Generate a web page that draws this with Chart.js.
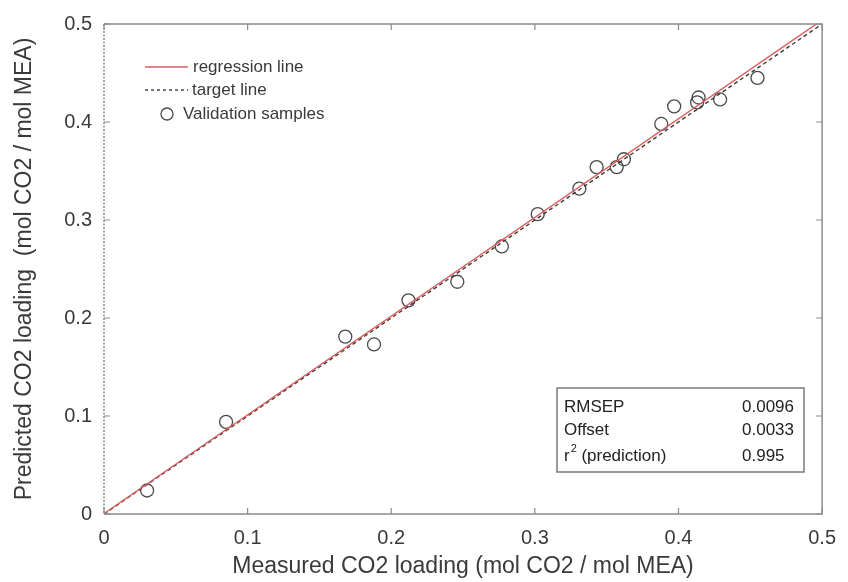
<!DOCTYPE html>
<html>
<head>
<meta charset="utf-8">
<script src="https://cdn.jsdelivr.net/npm/chart.js@4.4.1/dist/chart.umd.min.js"></script>
<style>
  html, body { margin: 0; padding: 0; background: #fff; }
  canvas { display: block; }
</style>
</head>
<body>
<canvas id="co2_chart" width="848" height="582"></canvas>
<script>
/* data */
var measured  = [0.030, 0.085, 0.168, 0.188, 0.212, 0.246, 0.277, 0.302, 0.331, 0.343, 0.357, 0.362, 0.388, 0.397, 0.413, 0.414, 0.429, 0.455];
var predicted = [0.024, 0.094, 0.181, 0.173, 0.218, 0.237, 0.273, 0.306, 0.332, 0.354, 0.354, 0.362, 0.398, 0.416, 0.420, 0.425, 0.423, 0.445];
/* regression line ends and target (y = x) line ends */
var reg_x = [0, 0.5];
var reg_y = [0.0005, 0.504];
var target_x = [0, 0.5];
var target_y = [0, 0.5];
/* axis ticks */
var x_ticks = [0, 0.1, 0.2, 0.3, 0.4, 0.5];
var y_ticks = [0, 0.1, 0.2, 0.3, 0.4, 0.5];
/* statistics box */
var stat_names  = ['RMSEP', 'Offset', 'r2 (prediction)'];
var stat_values = ['0.0096', '0.0033', '0.995'];

var font_name = '"Liberation Sans", Arial, Helvetica, sans-serif';
var text_col = '#3a3a3a';
var axis_col = '#8c8c8c';

function pairs(xs, ys) {
    var out = [];
    for (var i = 0; i < xs.length; i++) out.push({x: xs[i], y: ys[i]});
    return out;
}
function tick_label(v) {
    return (Math.round(v * 10) / 10).toString();
}

/*边框、向内刻度*/
var box_plugin = {
    id: 'box_plugin',
    afterDraw: function(chart) {
        var ctx = chart.ctx;
        var a = chart.chartArea;
        var sx = chart.scales.x, sy = chart.scales.y;
        ctx.save();
        ctx.strokeStyle = axis_col;
        ctx.lineWidth = 1.5;
        ctx.beginPath();
        ctx.moveTo(a.left, a.bottom);
        ctx.lineTo(a.right, a.bottom);
        ctx.lineTo(a.right, a.top);
        ctx.lineTo(a.left, a.top);
        ctx.stroke();
        /* left edge looks dotted in the original */
        ctx.setLineDash([2, 1.5]);
        ctx.beginPath();
        ctx.moveTo(a.left, a.top);
        ctx.lineTo(a.left, a.bottom);
        ctx.stroke();
        ctx.setLineDash([]);
        var tl = 6;
        ctx.lineWidth = 1.2;
        ctx.beginPath();
        for (var i = 0; i < x_ticks.length; i++) {
            var px = sx.getPixelForValue(x_ticks[i]);
            ctx.moveTo(px, a.bottom); ctx.lineTo(px, a.bottom - tl);
            ctx.moveTo(px, a.top); ctx.lineTo(px, a.top + tl);
        }
        for (var j = 0; j < y_ticks.length; j++) {
            var py = sy.getPixelForValue(y_ticks[j]);
            ctx.moveTo(a.left, py); ctx.lineTo(a.left + tl, py);
            ctx.moveTo(a.right, py); ctx.lineTo(a.right - tl, py);
        }
        ctx.stroke();
        ctx.restore();
    }
};

/*图例*/
var legend_plugin = {
    id: 'legend_plugin',
    afterDraw: function(chart) {
        var ctx = chart.ctx;
        var ds = chart.data.datasets;
        var rows = [67, 90, 114];
        var text_x = [193, 192, 183];
        ctx.save();
        ctx.font = '17px ' + font_name;
        ctx.textBaseline = 'middle';
        ctx.textAlign = 'left';
        for (var i = 0; i < ds.length; i++) {
            var y = rows[i];
            ctx.strokeStyle = ds[i].borderColor;
            ctx.lineWidth = ds[i].borderWidth;
            if (ds[i].showLine) {
                ctx.setLineDash(ds[i].borderDash ? [3, 3] : []);
                ctx.beginPath();
                ctx.moveTo(145, y);
                ctx.lineTo(188, y);
                ctx.stroke();
                ctx.setLineDash([]);
            } else {
                ctx.lineWidth = ds[i].pointBorderWidth;
                ctx.strokeStyle = ds[i].pointBorderColor;
                ctx.beginPath();
                ctx.arc(167, y, 6, 0, Math.PI * 2);
                ctx.stroke();
            }
            ctx.fillStyle = text_col;
            ctx.fillText(ds[i].label, text_x[i], y);
        }
        ctx.restore();
    }
};

/*统计框*/
var stats_plugin = {
    id: 'stats_plugin',
    afterDraw: function(chart) {
        var ctx = chart.ctx;
        ctx.save();
        ctx.strokeStyle = '#7a7a7a';
        ctx.lineWidth = 1.5;
        ctx.strokeRect(557, 388, 247, 84);
        ctx.font = '17px ' + font_name;
        ctx.fillStyle = '#222';
        ctx.textBaseline = 'middle';
        ctx.textAlign = 'left';
        var rows = [407, 430, 456];
        for (var i = 0; i < stat_names.length; i++) {
            var name = stat_names[i];
            if (name.indexOf('r2') === 0) {
                ctx.font = '17px ' + font_name;
                ctx.fillText('r', 564, rows[i]);
                var rw = ctx.measureText('r').width;
                ctx.font = '11px ' + font_name;
                ctx.fillText('2', 564 + rw + 1, rows[i] - 7);
                ctx.font = '17px ' + font_name;
                ctx.fillText(name.substring(2), 564 + rw + 7, rows[i]);
            } else {
                ctx.fillText(name, 564, rows[i]);
            }
            ctx.fillText(stat_values[i], 742, rows[i]);
        }
        ctx.restore();
    }
};

var ctx = document.getElementById('co2_chart').getContext('2d');
var myChart = new Chart(ctx, {
    type: 'scatter',
    data: {
        datasets: [{
            label: 'regression line',
            data: pairs(reg_x, reg_y),
            showLine: true,
            borderColor: 'rgb(222,92,92)',
            borderWidth: 1.4,
            pointRadius: 0,
            fill: false
        }, {
            label: 'target line',
            data: pairs(target_x, target_y),
            showLine: true,
            borderColor: '#3c3c3c',
            borderWidth: 1.4,
            borderDash: [4, 3],
            pointRadius: 0,
            fill: false
        }, {
            label: 'Validation samples',
            data: pairs(measured, predicted),
            showLine: false,
            pointStyle: 'circle',
            pointRadius: 6.5,
            pointBorderWidth: 1.3,
            pointBorderColor: '#4a4a4a',
            pointBackgroundColor: 'rgba(0,0,0,0)',
            borderColor: '#4a4a4a',
            borderWidth: 1.3
        }]
    },
    options: {
        responsive: false,
        animation: false,
        devicePixelRatio: 1,
        layout: {
            padding: { left: 0, right: 19, top: 18, bottom: 0 }
        },
        plugins: {
            legend: { display: false },
            tooltip: { enabled: false }
        },
        scales: {
            x: {
                type: 'linear',
                min: 0,
                max: 0.5,
                afterBuildTicks: function(scale) {
                    scale.ticks = x_ticks.map(function(v) { return {value: v}; });
                },
                afterFit: function(scale) { scale.height = 68; },
                grid: { display: false, drawTicks: false },
                border: { display: false },
                ticks: {
                    padding: 12,
                    color: text_col,
                    font: { family: font_name, size: 20 },
                    callback: tick_label,
                    maxRotation: 0
                },
                title: {
                    display: true,
                    text: 'Measured CO2 loading (mol CO2 / mol MEA)',
                    color: text_col,
                    font: { family: font_name, size: 23 },
                    padding: { top: 0, bottom: 2 }
                }
            },
            y: {
                type: 'linear',
                min: 0,
                max: 0.5,
                afterBuildTicks: function(scale) {
                    scale.ticks = y_ticks.map(function(v) { return {value: v}; });
                },
                afterFit: function(scale) { scale.width = 104; },
                grid: { display: false, drawTicks: false },
                border: { display: false },
                ticks: {
                    padding: 12,
                    color: text_col,
                    font: { family: font_name, size: 20 },
                    callback: tick_label
                },
                title: {
                    display: true,
                    text: 'Predicted CO2 loading  (mol CO2 / mol MEA)',
                    color: text_col,
                    font: { family: font_name, size: 23 },
                    padding: { top: 11, bottom: 0 }
                }
            }
        }
    },
    plugins: [box_plugin, legend_plugin, stats_plugin]
});
</script>
</body>
</html>
